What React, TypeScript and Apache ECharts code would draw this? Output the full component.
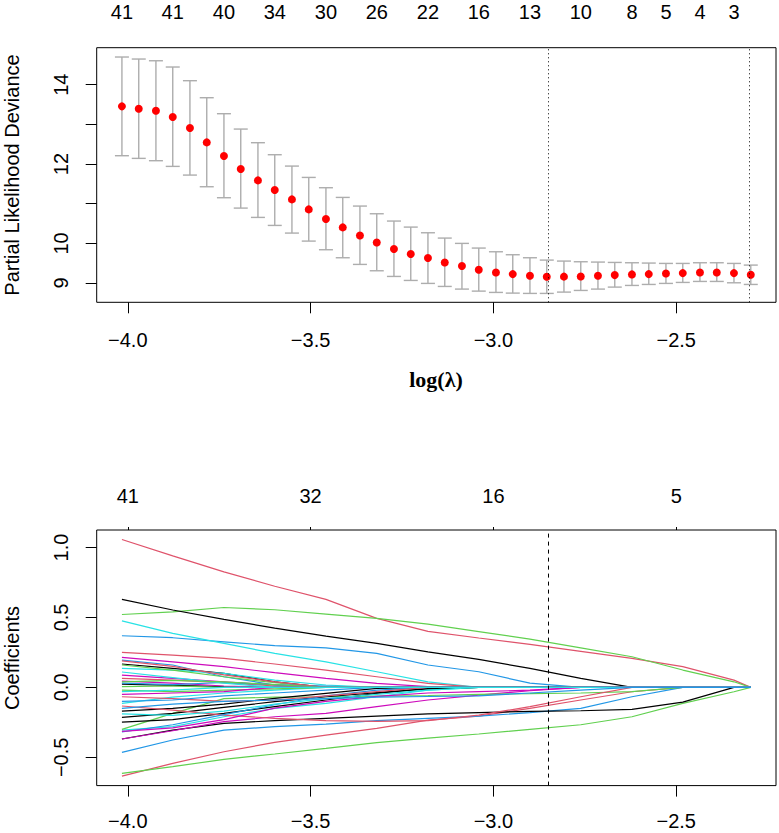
import React, { useEffect, useRef } from "react";
import * as echarts from "echarts";

// ---------- top panel: cross-validation curve ----------
const logLambda = [
  -4.016, -3.97, -3.923, -3.877, -3.83, -3.784, -3.737, -3.691, -3.644, -3.598,
  -3.551, -3.505, -3.458, -3.412, -3.365, -3.319, -3.272, -3.226, -3.179, -3.133,
  -3.086, -3.04, -2.993, -2.947, -2.9, -2.854, -2.807, -2.761, -2.714, -2.668,
  -2.621, -2.575, -2.528, -2.482, -2.435, -2.389, -2.342, -2.296,
];
const cvMean = [
  13.454, 13.395, 13.344, 13.185, 12.907, 12.546, 12.201, 11.874, 11.588, 11.344,
  11.109, 10.857, 10.613, 10.403, 10.201, 10.024, 9.857, 9.731, 9.63, 9.52,
  9.428, 9.335, 9.268, 9.226, 9.184, 9.158, 9.162, 9.167, 9.184, 9.201,
  9.218, 9.226, 9.243, 9.251, 9.268, 9.268, 9.251, 9.209,
];
const cvUpper = [
  14.698, 14.647, 14.604, 14.446, 14.101, 13.672, 13.269, 12.882, 12.538, 12.235,
  11.949, 11.663, 11.403, 11.159, 10.941, 10.747, 10.563, 10.411, 10.268, 10.134,
  10.0, 9.882, 9.789, 9.714, 9.638, 9.579, 9.554, 9.537, 9.529, 9.52,
  9.512, 9.504, 9.495, 9.495, 9.512, 9.512, 9.495, 9.453,
];
const cvLower = [
  12.21, 12.143, 12.084, 11.941, 11.722, 11.428, 11.151, 10.89, 10.655, 10.453,
  10.26, 10.058, 9.84, 9.638, 9.47, 9.31, 9.167, 9.066, 8.991, 8.915,
  8.848, 8.797, 8.764, 8.747, 8.739, 8.739, 8.772, 8.814, 8.848, 8.898,
  8.94, 8.965, 8.991, 9.016, 9.041, 9.041, 9.007, 8.965,
];
const nzLabelIndex = [0, 3, 6, 9, 12, 15, 18, 21, 24, 27, 30, 32, 34, 36];
const nzLabels = ["41", "41", "40", "34", "30", "26", "22", "16", "13", "10", "8", "5", "4", "3"];
const lambdaMinLog = -2.854;
const lambda1seLog = -2.296;
const devTicks = [9, 10, 11, 12, 13, 14];
const devTickLabels = [9, 10, 12, 14];
const lambdaTicks = [-4.0, -3.5, -3.0, -2.5];

// ---------- bottom panel: coefficient paths ----------
const pathTopLabels = ["41", "32", "16", "5"];
const coefTicks = [-0.5, 0, 0.5, 1.0];
const knotX = [
  -4.016, -3.877, -3.737, -3.598, -3.458, -3.319, -3.179, -3.04, -2.9, -2.761,
  -2.621, -2.482, -2.342, -2.296,
];
const coefPaths = [
  [1.057, 0.94, 0.826, 0.723, 0.629, 0.493, 0.4, 0.353, 0.307, 0.257, 0.207, 0.148, 0.052, 0],
  [0.521, 0.54, 0.571, 0.555, 0.524, 0.493, 0.452, 0.399, 0.345, 0.283, 0.219, 0.124, 0.04, 0],
  [0.629, 0.553, 0.486, 0.424, 0.366, 0.314, 0.254, 0.2, 0.136, 0.064, 0, 0, 0, 0],
  [0.369, 0.355, 0.326, 0.298, 0.283, 0.243, 0.16, 0.112, 0.03, 0, 0, 0, 0, 0],
  [0.476, 0.386, 0.314, 0.243, 0.183, 0.112, 0.04, 0, 0, 0, 0, 0, 0, 0],
  [0.25, 0.231, 0.207, 0.167, 0.124, 0.076, 0.029, 0, 0, 0, 0, 0, 0, 0],
  [0.214, 0.183, 0.148, 0.105, 0.064, 0.029, 0.005, 0, 0, 0, 0, 0, 0, 0],
  [0.167, 0.136, 0.1, 0.04, 0, 0, 0, 0, 0, 0, 0, 0, 0, 0],
  [0.195, 0.16, 0.076, 0.017, 0, 0, 0, 0, 0, 0, 0, 0, 0, 0],
  [0.136, 0.124, 0.1, 0.052, 0.017, 0, 0, 0, 0, 0, 0, 0, 0, 0],
  [0.16, 0.124, 0.076, 0.033, 0, 0, 0, 0, 0, 0, 0, 0, 0, 0],
  [0.088, 0.064, 0.04, 0.017, 0, 0, 0, 0, 0, 0, 0, 0, 0, 0],
  [0.064, 0.052, 0.033, 0.01, 0, 0, 0, 0, 0, 0, 0, 0, 0, 0],
  [0.024, 0.015, 0.005, 0, 0, 0, 0, 0, 0, 0, 0, 0, 0, 0],
  [0.045, 0.03, 0.01, 0, 0, 0, 0, 0, 0, 0, 0, 0, 0, 0],
  [0.03, 0.02, 0.035, 0.02, 0.01, 0, 0, 0, 0, 0, 0, 0, 0, 0],
  [0.005, 0.01, 0, 0, 0, 0, 0, 0, 0, 0, 0, 0, 0, 0],
  [0.11, 0.07, 0.03, 0, 0, 0, 0, 0, 0, 0, 0, 0, 0, 0],
  [0.19, 0.15, 0.09, 0.04, 0, 0, 0, 0, 0, 0, 0, 0, 0, 0],
  [0.04, 0.05, 0.04, 0.02, 0, 0, 0, 0, 0, 0, 0, 0, 0, 0],
  [-0.634, -0.543, -0.46, -0.393, -0.341, -0.293, -0.234, -0.205, -0.15, -0.09, -0.031, 0, 0, 0],
  [-0.614, -0.567, -0.514, -0.476, -0.436, -0.395, -0.362, -0.333, -0.3, -0.267, -0.21, -0.114, -0.031, 0],
  [-0.464, -0.376, -0.305, -0.281, -0.262, -0.238, -0.221, -0.205, -0.181, -0.15, -0.067, 0, 0, 0],
  [-0.369, -0.305, -0.257, -0.238, -0.221, -0.205, -0.19, -0.181, -0.171, -0.167, -0.157, -0.105, 0, 0],
  [-0.369, -0.31, -0.245, -0.21, -0.186, -0.138, -0.09, -0.055, -0.024, 0, 0, 0, 0, 0],
  [-0.305, -0.281, -0.21, -0.15, -0.114, -0.067, -0.019, 0, 0, 0, 0, 0, 0, 0],
  [-0.3, -0.186, -0.08, -0.07, -0.067, -0.062, -0.058, -0.05, -0.045, -0.04, -0.03, 0, 0, 0],
  [-0.214, -0.186, -0.143, -0.102, -0.067, -0.038, -0.01, 0, 0, 0, 0, 0, 0, 0],
  [-0.169, -0.15, -0.119, -0.079, -0.043, -0.007, 0, 0, 0, 0, 0, 0, 0, 0],
  [-0.248, -0.231, -0.186, -0.138, -0.09, -0.043, -0.007, 0, 0, 0, 0, 0, 0, 0],
  [-0.114, -0.07, -0.04, -0.02, 0, 0, 0, 0, 0, 0, 0, 0, 0, 0],
  [-0.133, -0.162, -0.198, -0.221, -0.238, -0.243, -0.238, -0.198, -0.138, -0.067, 0, 0, 0, 0],
  [-0.319, -0.267, -0.195, -0.124, -0.06, -0.02, 0, 0, 0, 0, 0, 0, 0, 0],
  [-0.314, -0.29, -0.231, -0.148, -0.1, -0.064, -0.04, -0.03, -0.02, 0, 0, 0, 0, 0],
  [-0.19, -0.2, -0.17, -0.12, -0.08, -0.05, -0.02, 0, 0, 0, 0, 0, 0, 0],
  [-0.067, -0.08, -0.1, -0.09, -0.06, -0.03, 0, 0, 0, 0, 0, 0, 0, 0],
  [-0.1, -0.09, -0.06, -0.04, -0.02, 0, 0, 0, 0, 0, 0, 0, 0, 0],
  [-0.02, -0.03, -0.02, -0.01, 0, 0, 0, 0, 0, 0, 0, 0, 0, 0],
  [-0.05, -0.04, -0.03, 0, 0, 0, 0, 0, 0, 0, 0, 0, 0, 0],
  [-0.03, -0.02, 0, 0, 0, 0, 0, 0, 0, 0, 0, 0, 0, 0],
  [-0.15, -0.12, -0.1, -0.09, -0.08, -0.07, -0.065, -0.06, -0.04, -0.02, 0, 0, 0, 0],
];

// R palette colours (styles)
const K = "#000000", R = "#DF536B", G = "#61D04F", B = "#2297E6", C = "#28E2E5", M = "#CD0BBC";
const pathColors = [
  R, G, K, B, C, R, M, K, B, C, G, M, R, K, M, B, G, C, R, G,
  R, G, B, K, M, C, G, K, K, K, C, R, B, M, C, R, B, G, M, C, B,
];

const FONT = '"Liberation Sans", Arial, Helvetica, sans-serif';
const X_MIN = -4.085;
const X_MAX = -2.227;

const minus = (v: number, d: number) => (v < 0 ? "\u2212" : "") + Math.abs(v).toFixed(d);

export default function App() {
  const ref = useRef<HTMLDivElement>(null);

  useEffect(() => {
    if (!ref.current) return;
    const chart = echarts.init(ref.current, undefined, { renderer: "svg" });

    const nzPositions = nzLabelIndex.map((i) => logLambda[i]);
    const labelStyle = { color: "#000", fontSize: 20, fontFamily: FONT };
    const tickStyle = { color: "#000", width: 1 };
    const noLine = { show: false, onZero: false };

    const bottomAxis = (gridIndex: number, margin: number) => ({
      gridIndex,
      type: "value",
      position: "bottom",
      min: X_MIN,
      max: X_MAX,
      axisLine: noLine,
      splitLine: { show: false },
      axisTick: { show: true, length: 11, customValues: lambdaTicks, lineStyle: tickStyle },
      axisLabel: {
        ...labelStyle,
        margin,
        customValues: lambdaTicks,
        formatter: (v: number) => minus(v, 1),
      },
    });

    const pathSeries = coefPaths.map((path, idx) => ({
      type: "line",
      xAxisIndex: 2,
      yAxisIndex: 1,
      data: knotX.map((x, k) => [x, path[k]]),
      showSymbol: false,
      symbol: "none",
      silent: true,
      lineStyle: { color: pathColors[idx], width: 1.2 },
      z: 3,
      ...(idx === 0
        ? {
            markLine: {
              silent: true,
              symbol: ["none", "none"],
              label: { show: false },
              lineStyle: { color: "#000", width: 1, type: [4, 4] },
              data: [{ xAxis: lambdaMinLog }],
            },
          }
        : {}),
    }));

    const option: any = {
      animation: false,
      backgroundColor: "#fff",
      grid: [
        {
          left: 96.7, right: 3, top: 47.7, height: 254.6,
          show: true, borderColor: "#000", borderWidth: 1, backgroundColor: "transparent",
          containLabel: false, outerBoundsMode: "none",
        },
        {
          left: 96.7, right: 3, top: 530, height: 255.6,
          show: true, borderColor: "#000", borderWidth: 1, backgroundColor: "transparent",
          containLabel: false, outerBoundsMode: "none",
        },
      ],
      xAxis: [
        bottomAxis(0, 28),
        {
          gridIndex: 0,
          type: "value",
          position: "top",
          min: X_MIN,
          max: X_MAX,
          axisLine: noLine,
          splitLine: { show: false },
          axisTick: { show: false },
          axisLabel: {
            ...labelStyle,
            margin: 26,
            customValues: nzPositions,
            formatter: (v: number) => {
              const k = nzPositions.findIndex((p) => Math.abs(p - v) < 1e-6);
              return k >= 0 ? nzLabels[k] : "";
            },
          },
        },
        bottomAxis(1, 25),
        {
          gridIndex: 1,
          type: "value",
          position: "top",
          min: X_MIN,
          max: X_MAX,
          axisLine: noLine,
          splitLine: { show: false },
          axisTick: { show: true, length: 3, customValues: lambdaTicks, lineStyle: tickStyle },
          axisLabel: {
            ...labelStyle,
            margin: 24,
            customValues: lambdaTicks,
            formatter: (v: number) => {
              const k = lambdaTicks.findIndex((p) => Math.abs(p - v) < 1e-6);
              return k >= 0 ? pathTopLabels[k] : "";
            },
          },
        },
      ],
      yAxis: [
        {
          gridIndex: 0,
          type: "value",
          min: 8.515,
          max: 14.933,
          axisLine: noLine,
          splitLine: { show: false },
          axisTick: { show: true, length: 11, customValues: devTicks, lineStyle: tickStyle },
          axisLabel: {
            ...labelStyle,
            rotate: 90,
            margin: 26,
            customValues: devTicks,
            formatter: (v: number) => (devTickLabels.some((t) => Math.abs(t - v) < 1e-6) ? String(v) : ""),
          },
        },
        {
          gridIndex: 1,
          type: "value",
          min: -0.702,
          max: 1.125,
          axisLine: noLine,
          splitLine: { show: false },
          axisTick: { show: true, length: 11, customValues: coefTicks, lineStyle: tickStyle },
          axisLabel: {
            ...labelStyle,
            rotate: 90,
            margin: 26,
            customValues: coefTicks,
            formatter: (v: number) => minus(v, 1),
          },
        },
      ],
      graphic: [
        {
          type: "text",
          x: 12,
          y: 175,
          rotation: Math.PI / 2,
          style: {
            text: "Partial Likelihood Deviance",
            fill: "#000",
            font: `20px ${FONT}`,
            align: "center",
            verticalAlign: "middle",
          },
        },
        {
          type: "text",
          x: 12,
          y: 658,
          rotation: Math.PI / 2,
          style: {
            text: "Coefficients",
            fill: "#000",
            font: `20px ${FONT}`,
            align: "center",
            verticalAlign: "middle",
          },
        },
        {
          type: "text",
          x: 436,
          y: 379,
          style: {
            text: "log(\u03bb)",
            fill: "#000",
            font: `bold 22px "Liberation Serif", "Times New Roman", serif`,
            align: "center",
            verticalAlign: "middle",
          },
        },
      ],
      series: [
        {
          type: "custom",
          xAxisIndex: 0,
          yAxisIndex: 0,
          silent: true,
          encode: { x: 0, y: [1, 2] },
          data: logLambda.map((x, i) => [x, cvLower[i], cvUpper[i]]),
          renderItem: (_params: any, api: any) => {
            const x = api.value(0);
            const lo = api.coord([x, api.value(1)]);
            const hi = api.coord([x, api.value(2)]);
            const w = 7;
            const style = { stroke: "#ADADAD", lineWidth: 1.4 };
            return {
              type: "group",
              children: [
                { type: "line", shape: { x1: hi[0], y1: hi[1], x2: lo[0], y2: lo[1] }, style },
                { type: "line", shape: { x1: hi[0] - w, y1: hi[1], x2: hi[0] + w, y2: hi[1] }, style },
                { type: "line", shape: { x1: lo[0] - w, y1: lo[1], x2: lo[0] + w, y2: lo[1] }, style },
              ],
            };
          },
          z: 2,
        },
        {
          type: "scatter",
          xAxisIndex: 0,
          yAxisIndex: 0,
          silent: true,
          symbol: "circle",
          symbolSize: 8,
          itemStyle: { color: "#FF0000", opacity: 1 },
          data: logLambda.map((x, i) => [x, cvMean[i]]),
          z: 3,
          markLine: {
            silent: true,
            symbol: ["none", "none"],
            label: { show: false },
            lineStyle: { color: "#000", width: 1, type: [1, 3] },
            data: [{ xAxis: lambdaMinLog }, { xAxis: lambda1seLog }],
          },
        },
        ...pathSeries,
      ],
    };

    chart.setOption(option);
    return () => chart.dispose();
  }, []);

  return (
    <div
      ref={ref}
      style={{ position: "absolute", left: 0, top: 0, width: 779, height: 833, background: "#fff" }}
    />
  );
}
